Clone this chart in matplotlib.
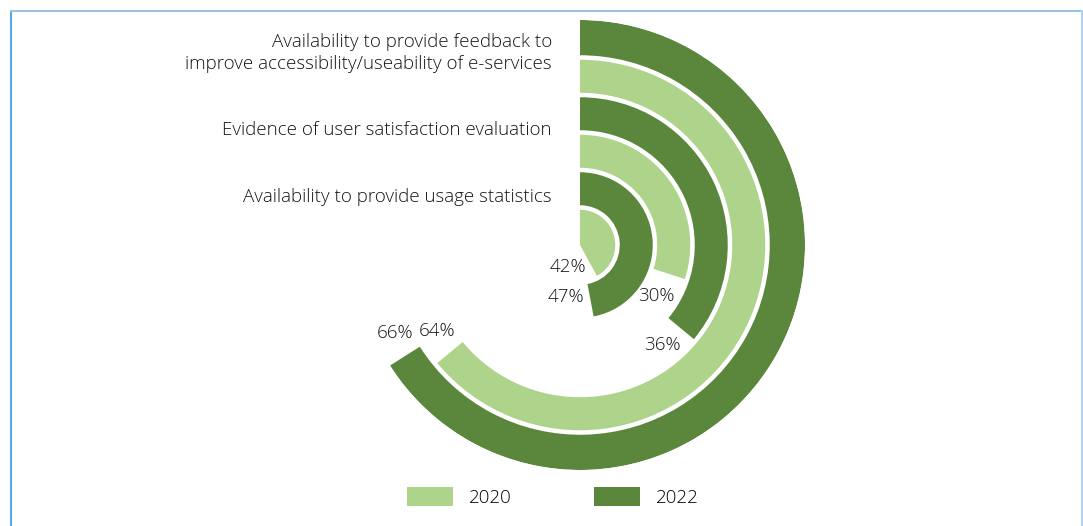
import numpy as np
import matplotlib.pyplot as plt
from matplotlib.lines import Line2D
from matplotlib.patches import Patch

plt.rcParams['font.family'] = ['Open Sans', 'DejaVu Sans']
plt.rcParams['font.weight'] = 'light'

# data (inner pair first)
categories = ['Availability to provide usage statistics',
              'Evidence of user satisfaction evaluation',
              'Availability to provide feedback to\nimprove accessibility/useability of e-services']
years = ['2020', '2022']
values_2020 = [42, 30, 64]
values_2022 = [47, 36, 66]

light = '#ADD48A'
dark = '#5B873D'
txt = '#151515'
fs = 13.5

W, H = 1083, 526
fig = plt.figure(figsize=(W / 100, H / 100), dpi=100)

# polar axes: centre at (580, 245) px, outer radius 225 px
cx, cy, R = 580, 245, 225
ax = fig.add_axes([(cx - R) / W, 1 - (cy + R) / H, 2 * R / W, 2 * R / H], projection='polar')
ax.set_theta_zero_location('N')
ax.set_theta_direction(-1)
ax.set_ylim(0, 6)
ax.axis('off')

ring = 0
for i in range(len(categories)):
    for val, col in ((values_2020[i], light), (values_2022[i], dark)):
        r0 = 0 if ring == 0 else ring + 0.06
        r1 = 6 if ring == 5 else ring + 0.94
        ang = val / 100 * 2 * np.pi
        ax.bar(0, r1 - r0, width=ang, bottom=r0, align='edge', color=col,
               edgecolor='none')
        # percent label just past the arc end
        rl = max(ring + 0.45, 0.66)
        ax.text(ang + 0.66 / rl, rl, f'{val}%', ha='center', va='center',
                fontsize=fs, color=txt)
        ring += 1

# category labels, right aligned next to the start line
label_y = [197, 130, 53]
for cat, y in zip(categories, label_y):
    fig.text(552 / W, 1 - y / H, cat, ha='right', va='center', fontsize=fs,
             color=txt, linespacing=1.25)

handles = [Patch(facecolor=light), Patch(facecolor=dark)]
fig.legend(handles, years, loc='center', bbox_to_anchor=(553 / W, 1 - 497 / H),
           ncol=2, frameon=False, fontsize=fs, handlelength=2.45, handleheight=1.17,
           handletextpad=0.85, columnspacing=4.4)

# light blue frame (left, top, right)
fig.add_artist(Line2D([10.5 / W, 10.5 / W], [0, 1 - 10.5 / H], color='#5AA5F0', lw=1.5))
fig.add_artist(Line2D([10.5 / W, 1082 / W], [1 - 10.5 / H, 1 - 10.5 / H], color='#9CC3E6', lw=1.5))
fig.add_artist(Line2D([1082 / W, 1082 / W], [0, 1 - 10.5 / H], color='#B5D3F0', lw=1.5))

fig.savefig('out.png', dpi=100)
